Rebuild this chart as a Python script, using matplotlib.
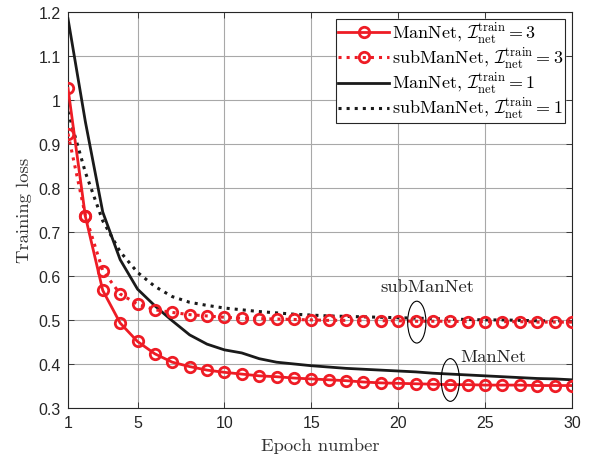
import numpy as np
import matplotlib
matplotlib.use("Agg")
import matplotlib.pyplot as plt
from matplotlib.patches import Ellipse

plt.rcParams['mathtext.fontset'] = 'cm'
plt.rcParams['font.family'] = 'serif'
plt.rcParams['font.serif'] = ['cmr10']
plt.rcParams['axes.formatter.use_mathtext'] = True

epochs = np.arange(1, 31)

# ManNet, I_net^train = 3
mannet_3 = [1.026, 0.735, 0.567, 0.493, 0.451, 0.423, 0.404, 0.394, 0.386, 0.381,
            0.377, 0.373, 0.371, 0.368, 0.366, 0.364, 0.362, 0.359, 0.357, 0.356,
            0.355, 0.354, 0.353, 0.353, 0.352, 0.352, 0.352, 0.351, 0.351, 0.351]
# subManNet, I_net^train = 3
submannet_3 = [0.923, 0.737, 0.612, 0.559, 0.536, 0.523, 0.517, 0.512, 0.509, 0.506,
               0.504, 0.503, 0.502, 0.501, 0.500, 0.499, 0.499, 0.498, 0.498, 0.498,
               0.497, 0.497, 0.497, 0.496, 0.496, 0.496, 0.496, 0.495, 0.495, 0.495]
# ManNet, I_net^train = 1
mannet_1 = [1.184, 0.950, 0.745, 0.637, 0.570, 0.532, 0.498, 0.466, 0.445, 0.432,
            0.425, 0.412, 0.404, 0.400, 0.396, 0.393, 0.390, 0.388, 0.386, 0.384,
            0.382, 0.379, 0.377, 0.375, 0.373, 0.371, 0.369, 0.367, 0.366, 0.364]
# subManNet, I_net^train = 1
submannet_1 = [0.973, 0.835, 0.725, 0.655, 0.608, 0.576, 0.553, 0.540, 0.533, 0.527,
               0.523, 0.519, 0.516, 0.513, 0.511, 0.509, 0.508, 0.507, 0.506, 0.505,
               0.504, 0.503, 0.502, 0.501, 0.500, 0.500, 0.499, 0.498, 0.498, 0.497]

labels = [r'ManNet, $\mathcal{I}_{\mathrm{net}}^{\mathrm{train}}=3$',
          r'subManNet, $\mathcal{I}_{\mathrm{net}}^{\mathrm{train}}=3$',
          r'ManNet, $\mathcal{I}_{\mathrm{net}}^{\mathrm{train}}=1$',
          r'subManNet, $\mathcal{I}_{\mathrm{net}}^{\mathrm{train}}=1$']

xticks = [1, 5, 10, 15, 20, 25, 30]
yticks = [0.3, 0.4, 0.5, 0.6, 0.7, 0.8, 0.9, 1.0, 1.1, 1.2]
ytick_labels = ['0.3', '0.4', '0.5', '0.6', '0.7', '0.8', '0.9', '1', '1.1', '1.2']

RED = '#ee1c25'
BLACK = '#1a1a1a'

fig = plt.figure(figsize=(5.97, 4.6), dpi=100)
ax = fig.add_axes([0.1139, 0.1109, 0.8442, 0.8615])

ax.plot(epochs, mannet_3, '-', color=RED, lw=2, marker='o', ms=7.5,
        mfc='none', mew=2, label=labels[0], zorder=4)
ax.plot(epochs, submannet_3, ':', color=RED, lw=2.2, marker='o', ms=7.5,
        mfc='none', mew=2, label=labels[1], zorder=4)
ax.plot(epochs, mannet_1, '-', color=BLACK, lw=2, label=labels[2], zorder=3)
ax.plot(epochs, submannet_1, ':', color=BLACK, lw=2.2, label=labels[3], zorder=3)

ax.set_xlim(1, 30)
ax.set_ylim(0.3, 1.2)
ax.set_xticks(xticks)
ax.set_xticklabels([str(t) for t in xticks])
ax.set_yticks(yticks)
ax.set_yticklabels(ytick_labels)
for lab in ax.get_xticklabels() + ax.get_yticklabels():
    lab.set_family('Liberation Sans')
    lab.set_fontsize(11.5)
    lab.set_color('#262626')

ax.tick_params(direction='in', length=4, width=0.6, colors='#262626', top=True, right=True, pad=5)
ax.grid(True, color='#a8a8a8', lw=0.8)
ax.set_axisbelow(True)
for s in ax.spines.values():
    s.set_color('#262626')
    s.set_linewidth(0.8)

ax.set_xlabel('Epoch number', fontsize=13.4, color='#333333', labelpad=5)
ax.set_ylabel('Training loss', fontsize=13.4, color='#333333', labelpad=5)

leg = ax.legend(loc='upper right', fontsize=13, handlelength=2.8, handletextpad=0.15,
                labelspacing=0.0, borderpad=0.1, borderaxespad=0.4, fancybox=False,
                framealpha=1, edgecolor='#262626')
leg.get_frame().set_linewidth(0.8)

ax.add_patch(Ellipse((21.07, 0.495), 1.05, 0.095, fill=False, ec='black', lw=0.8, zorder=5))
ax.add_patch(Ellipse((23.0, 0.3636), 1.05, 0.097, fill=False, ec='black', lw=0.8, zorder=5))
ax.text(21.7, 0.577, 'subManNet', fontsize=13.4, ha='center', va='center', color='#222222')
ax.text(25.5, 0.418, 'ManNet', fontsize=13.4, ha='center', va='center', color='#222222')

fig.savefig('out.png', dpi=100)
